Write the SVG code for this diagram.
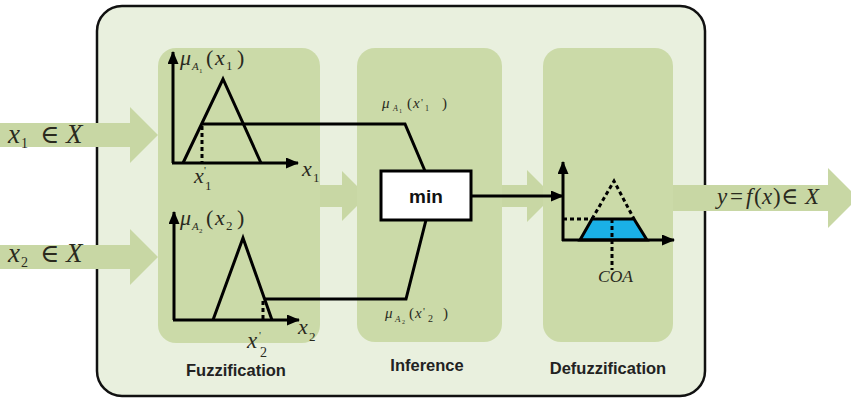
<svg xmlns="http://www.w3.org/2000/svg" width="851" height="401" viewBox="0 0 851 401">
<style>
.bg{fill:#e9f0de;stroke:#111;stroke-width:2.5}
.panel{fill:#cbdaa8}
.flow{fill:#c8d7a4}
.ln{fill:none;stroke:#000;stroke-width:3;stroke-linejoin:miter}
.dash{fill:none;stroke:#000;stroke-width:3;stroke-dasharray:4 3}
.m{font-family:"Liberation Serif","Times New Roman",serif;fill:#2a2a1e}
.i{font-style:italic}
.el{font-family:"DejaVu Serif",serif;font-style:normal}
.lbl{font-family:"Liberation Sans",Arial,sans-serif;font-weight:bold;font-size:16.5px;fill:#222;text-anchor:middle}
</style>
<defs>
<marker id="ah" viewBox="0 0 13 11" refX="12" refY="5.5" markerWidth="13" markerHeight="11" markerUnits="userSpaceOnUse" orient="auto"><path d="M0,0 L13,5.5 L0,11 z" fill="#000"/></marker>
</defs>

<g id="frame"><rect class="bg" x="97" y="6" width="608" height="390" rx="25"/></g>

<g id="flows">
<polygon class="flow" points="0,123 130,123 130,107 158,135 130,163 130,147 0,147"/>
<polygon class="flow" points="0,245 130,245 130,229 158,257 130,285 130,269 0,269"/>
<polygon class="flow" points="300,185 342,185 342,171 367,196 342,221 342,207 300,207"/>
<polygon class="flow" points="490,185 527,185 527,170 553,196 527,222 527,207 490,207"/>
<polygon class="flow" points="660,185 828,185 828,168 858,198 828,228 828,211 660,211"/>
</g>

<g id="fuzzification">
<rect class="panel" x="158" y="48" width="162" height="295" rx="18"/>
<text class="lbl" x="236" y="376">Fuzzification</text>
</g>
<g id="inference">
<rect class="panel" x="357" y="48" width="145" height="294" rx="18"/>
<text class="lbl" x="427" y="371">Inference</text>
</g>
<g id="defuzzification">
<rect class="panel" x="543" y="48" width="130" height="294" rx="18"/>
<text class="lbl" x="608" y="374">Defuzzification</text>
</g>

<g id="input-labels" class="m">
<text y="143" font-size="27"><tspan class="i" x="8">x</tspan><tspan x="21" y="148" font-size="14">1</tspan><tspan class="el" x="40" y="143" font-size="26">∈</tspan><tspan class="i" x="66" y="143">X</tspan></text>
<text y="262" font-size="27"><tspan class="i" x="8">x</tspan><tspan x="21" y="267" font-size="14">2</tspan><tspan class="el" x="40" y="262" font-size="26">∈</tspan><tspan class="i" x="66" y="262">X</tspan></text>
</g>

<g id="graph1">
<line class="ln" x1="173" y1="163" x2="173" y2="52" marker-end="url(#ah)"/>
<line class="ln" x1="172" y1="163" x2="298" y2="163" marker-end="url(#ah)"/>
<polyline class="ln" points="183,163 223,79 261,163"/>
<line class="dash" x1="202" y1="126" x2="202" y2="163"/>
<text class="m" font-size="22"><tspan class="i" x="180" y="65">μ</tspan><tspan class="i" x="192" y="70" font-size="11">A</tspan><tspan x="199" y="73" font-size="7">1</tspan><tspan x="206" y="65">(</tspan><tspan class="i" x="215" y="65">x</tspan><tspan x="226" y="70" font-size="13">1</tspan><tspan x="237" y="65">)</tspan></text>
<text class="m" font-size="22"><tspan class="i" x="194" y="183">x</tspan><tspan x="204" y="174" font-size="11">'</tspan><tspan x="205" y="190" font-size="13">1</tspan></text>
<text class="m" font-size="22"><tspan class="i" x="302" y="176">x</tspan><tspan x="313" y="182" font-size="13">1</tspan></text>
</g>

<g id="graph2">
<line class="ln" x1="174" y1="320" x2="174" y2="212" marker-end="url(#ah)"/>
<line class="ln" x1="173" y1="320" x2="299" y2="320" marker-end="url(#ah)"/>
<polyline class="ln" points="213,320 243,238 272,320"/>
<line class="dash" x1="263" y1="301" x2="263" y2="320"/>
<text class="m" font-size="22"><tspan class="i" x="180" y="225">μ</tspan><tspan class="i" x="192" y="230" font-size="11">A</tspan><tspan x="199" y="233" font-size="7">2</tspan><tspan x="206" y="225">(</tspan><tspan class="i" x="215" y="225">x</tspan><tspan x="226" y="230" font-size="13">2</tspan><tspan x="237" y="225">)</tspan></text>
<text class="m" font-size="23"><tspan class="i" x="247" y="348">x</tspan><tspan x="259" y="339" font-size="11">'</tspan><tspan x="260" y="357" font-size="14">2</tspan></text>
<text class="m" font-size="22"><tspan class="i" x="298" y="334">x</tspan><tspan x="309" y="341" font-size="13">2</tspan></text>
</g>

<g id="min">
<rect x="381" y="171" width="90" height="49" fill="#fff" stroke="#000" stroke-width="3"/>
<text x="426" y="203" font-family="Liberation Sans,Arial,sans-serif" font-weight="bold" font-size="19" text-anchor="middle" fill="#111">min</text>
</g>

<g id="inference-labels" class="m" font-size="15">
<text><tspan class="i" x="382" y="108">μ</tspan><tspan class="i" x="393" y="111" font-size="8">A</tspan><tspan x="399" y="113" font-size="6">1</tspan><tspan x="407" y="108">(</tspan><tspan class="i" x="413" y="108">x</tspan><tspan x="421" y="106" font-size="11">'</tspan><tspan x="425" y="111" font-size="8">1</tspan><tspan x="442" y="108">)</tspan></text>
<text><tspan class="i" x="385" y="318">μ</tspan><tspan class="i" x="395" y="322" font-size="9">A</tspan><tspan x="402" y="324" font-size="6">2</tspan><tspan x="409" y="318">(</tspan><tspan class="i" x="415" y="318">x</tspan><tspan x="423" y="315" font-size="11">'</tspan><tspan x="428" y="322" font-size="10">2</tspan><tspan x="443" y="318">)</tspan></text>
</g>

<g id="connectors">
<polyline class="ln" points="202,124 405,124 425,171"/>
<polyline class="ln" points="264,299 406,299 426,220"/>
<line class="ln" x1="471" y1="196" x2="563" y2="196" marker-end="url(#ah)"/>
</g>

<g id="defuzz-graph">
<polygon points="580,240 592,219 634,219 647,240" fill="#1ab0e6" stroke="#000" stroke-width="3"/>
<line class="ln" x1="563" y1="241" x2="563" y2="162" marker-end="url(#ah)"/>
<line class="ln" x1="562" y1="240" x2="674" y2="240" marker-end="url(#ah)"/>
<polyline class="dash" points="592,219 614,181 634,219"/>
<line class="dash" x1="563" y1="219" x2="592" y2="219"/>
<line class="dash" x1="612" y1="219" x2="612" y2="270"/>
<text class="m i" x="598" y="282" font-size="17.5">COA</text>
</g>

<g id="output-label" class="m" font-size="23">
<text><tspan class="i" x="717" y="204">y</tspan><tspan x="730" y="204">=</tspan><tspan class="i" x="746" y="204">f</tspan><tspan x="754" y="204">(</tspan><tspan class="i" x="762" y="204">x</tspan><tspan x="773" y="204">)</tspan><tspan class="el" x="781" y="204" font-size="23">∈</tspan><tspan class="i" x="805" y="204">X</tspan></text>
</g>
</svg>
